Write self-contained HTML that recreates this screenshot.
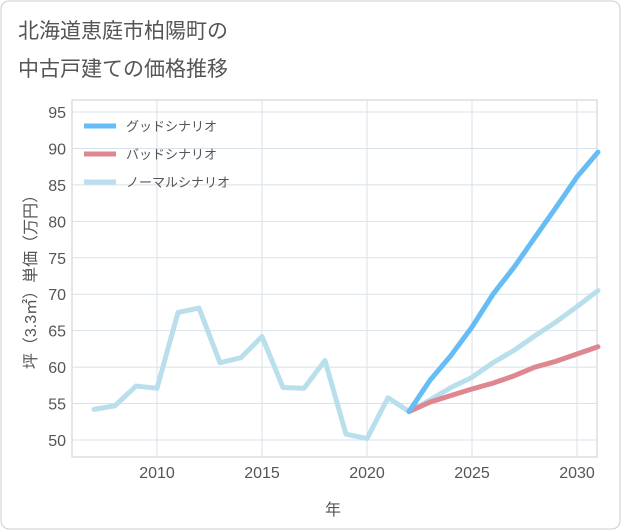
<!DOCTYPE html>
<html><head><meta charset="utf-8">
<style>
body{margin:0;background:#fff;}
svg{display:block;font-family:"Liberation Sans","Noto Sans CJK JP",sans-serif;}
</style></head>
<body>
<svg id="c" width="621" height="530" viewBox="0 0 621 530">
<rect x="1" y="1" width="619" height="528" rx="8" fill="#fff" stroke="#ccc"/>
<text x="18" y="38" font-size="21" fill="#555">北海道恵庭市柏陽町の</text>
<text x="18" y="76" font-size="21" fill="#555">中古戸建ての価格推移</text>
<rect x="72" y="100" width="525" height="357" fill="#fff" stroke="#ccc"/>
<g id="grid"></g>
<g id="series"></g>
<g id="legend"></g>
<text x="333" y="515" font-size="16" fill="#555" text-anchor="middle">年</text>
<text transform="translate(36,278) rotate(-90)" font-size="16" fill="#555" text-anchor="middle">坪（3.3㎡）単価（万円）</text>
</svg>
<script>
const years=[2007,2008,2009,2010,2011,2012,2013,2014,2015,2016,2017,2018,2019,2020,2021,2022,2023,2024,2025,2026,2027,2028,2029,2030,2031];
const normal=[54.2,54.7,57.4,57.1,67.5,68.1,60.6,61.3,64.2,57.2,57.1,60.9,50.8,50.2,55.8,53.9,55.5,57.2,58.6,60.6,62.3,64.3,66.2,68.3,70.5];
const goodYears=[2022,2023,2024,2025,2026,2027,2028,2029,2030,2031];
const good=[53.9,58.2,61.6,65.5,70.0,73.7,77.8,81.9,86.1,89.5];
const bad=[53.9,55.2,56.1,57.0,57.8,58.8,60.0,60.8,61.8,62.8];
const xTicks=[2010,2015,2020,2025,2030];
const yTicks=[50,55,60,65,70,75,80,85,90,95];
const seriesNames=["グッドシナリオ","バッドシナリオ","ノーマルシナリオ"];
const NS="http://www.w3.org/2000/svg";
function X(y){return 157+(y-2010)*21;}
function Y(v){return 440-(v-50)*7.289;}
function mk(t,a,p){const e=document.createElementNS(NS,t);for(const k in a)e.setAttribute(k,a[k]);p.appendChild(e);return e;}
const grid=document.getElementById('grid');
xTicks.forEach(t=>{
 const l=mk('line',{x1:X(t),x2:X(t),y1:100,y2:457,stroke:'#d8e2ea'},grid);
 
 
 const s=mk('text',{x:X(t),y:478,'font-size':16,fill:'#555','text-anchor':'middle'},grid);
 s.textContent=t;
 
 
});
yTicks.forEach(t=>{
 const l=mk('line',{x1:72,x2:597,y1:Y(t),y2:Y(t),stroke:'#d8e2ea'},grid);
 
 
 const s=mk('text',{x:66,y:Y(t)+6,'font-size':16,fill:'#555','text-anchor':'end'},grid);
 s.textContent=t;
 
 
});
const sg=document.getElementById('series');
function line(xs,vs,col,name){
 const p=mk('polyline',{points:xs.map((y,i)=>X(y)+','+Y(vs[i])).join(' '),fill:'none',stroke:col,'stroke-width':5,'stroke-linejoin':'round','stroke-linecap':'round'},sg);
 
 
}
line(years,normal,'#b9dfec','normal-scenario-line');
line(goodYears,bad,'#de8790','bad-scenario-line');
line(goodYears,good,'#66bdf5','good-scenario-line');
const lg=document.getElementById('legend');
const cols=['#66bdf5','#de8790','#b9dfec'];
seriesNames.forEach((n,i)=>{
 const y=126+i*28;
 const l=mk('line',{x1:84,x2:116,y1:y,y2:y,stroke:cols[i],'stroke-width':5},lg);
 
 
 const t=mk('text',{x:126,y:y+5,'font-size':13,fill:'#555'},lg);
 t.textContent=n;
 
 
});
</script>
</body></html>
